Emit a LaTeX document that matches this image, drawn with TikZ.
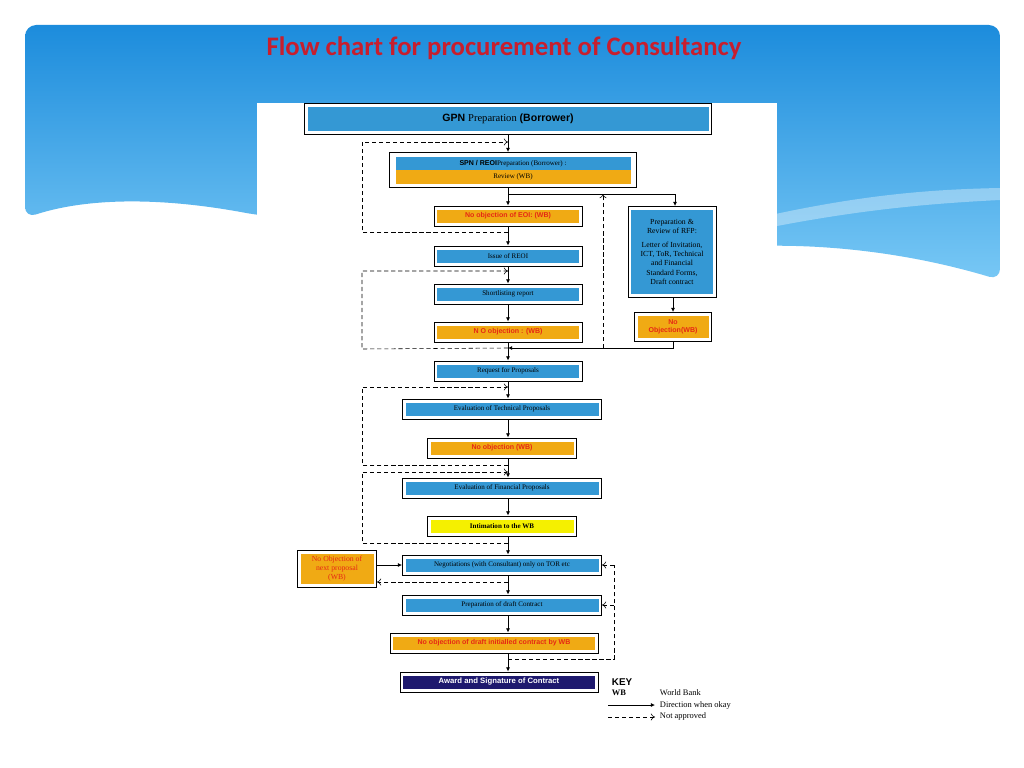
\documentclass[tikz,border=0pt]{standalone}
\usepackage{fontspec}
\setmainfont{Liberation Serif}
\newfontfamily\arialfont{Liberation Sans}
\newfontfamily\titlefont{Carlito}
\usetikzlibrary{arrows.meta,positioning,calc}
\definecolor{slideblue}{RGB}{28,140,220}
\definecolor{slidelight}{RGB}{120,200,245}
\definecolor{boxblue}{RGB}{52,152,212}
\definecolor{boxorange}{RGB}{240,170,20}
\definecolor{boxyellow}{RGB}{245,240,0}
\definecolor{boxnavy}{RGB}{30,25,110}
\definecolor{titlered}{RGB}{200,30,45}
\definecolor{objred}{RGB}{230,40,20}
\tikzset{
  frame/.style={draw, line width=0.7pt, fill=white, inner sep=0pt},
  inner/.style={fill=#1, inner sep=0pt, align=center},
  small/.style={font=\fontsize{5}{5.6}\selectfont},
  redtxt/.style={font=\arialfont\bfseries\fontsize{5}{5.6}\selectfont, text=objred},
  flow/.style={draw, line width=0.6pt, -{Latex[length=3pt,width=3pt]}},
  flowline/.style={draw, line width=0.6pt},
  back/.style={draw, densely dashed, line width=0.4pt, -{To[length=3pt,width=5pt]}},
  backline/.style={draw, densely dashed, line width=0.4pt}
}
% name, x, y, width, height, colour, text style, text
\newcommand{\boxnode}[8]{%
  \node[frame, minimum width=#4*0.025cm, minimum height=#5*0.025cm] (#1-f) at (#2,#3) {};
  \node[inner=#6, minimum width=#4*0.025cm-6*0.025cm, minimum height=#5*0.025cm-7*0.025cm, #7] (#1) at (#2,#3) {#8};
}
\begin{document}
\begin{tikzpicture}[x=0.025cm, y=-0.025cm]
\useasboundingbox (0,0) rectangle (1024,768);
\fill[white] (0,0) rectangle (1024,768);
% slide header
\shade[top color=slideblue, bottom color=slidelight, rounded corners=8]
  (25,25) -- (1000,25) -- (1000,280) .. controls (900,250) and (800,240) .. (700,250)
  -- (257,215) .. controls (150,195) and (80,200) .. (25,218) -- cycle;
\fill[white, opacity=0.35] (600,260) .. controls (800,200) and (900,190) .. (1000,188)
  -- (1000,200) .. controls (900,205) and (800,215) .. (620,262) -- cycle;
\node[font=\titlefont\bfseries\fontsize{19}{22}\selectfont, text=titlered] (title) at (504,48) {Flow chart for procurement of Consultancy};
\fill[white] (257,103) rectangle (777,768);

% boxes
\boxnode{gpn}{508}{119}{407}{31}{boxblue}{font=\arialfont\fontsize{7.5}{8}\selectfont}{\textbf{GPN} {\rmfamily Preparation} \textbf{(Borrower)}}
\node[frame, minimum width=247*0.025cm, minimum height=35*0.025cm] (spn-f) at (513,170) {};
\node[inner=boxblue, minimum width=235*0.025cm, minimum height=13*0.025cm, small] (spn) at (513,164) {{\arialfont\bfseries SPN / REOI}Preparation (Borrower) :};
\node[inner=boxorange, minimum width=235*0.025cm, minimum height=14*0.025cm, small] (review) at (513,177) {Review (WB)};
\boxnode{eoi}{508}{216}{148}{20}{boxorange}{redtxt}{No objection of EOI: (WB)}
\boxnode{issue}{508}{256}{148}{20}{boxblue}{small}{Issue of REOI}
\boxnode{short}{508}{294}{148}{20}{boxblue}{small}{Shortlisting report}
\boxnode{noobj}{508}{332}{148}{20}{boxorange}{redtxt}{N O objection : (WB)}
\boxnode{rfp}{672}{252}{88}{91}{boxblue}{font=\fontsize{5.5}{6.6}\selectfont}{Preparation \&\\Review of RFP:\\[3pt]Letter of Invitation,\\ICT, ToR, Technical\\and Financial\\Standard Forms,\\Draft contract}
\boxnode{rfpok}{673}{327}{77}{29}{boxorange}{redtxt}{No\\Objection(WB)}
\boxnode{request}{508}{371}{148}{20}{boxblue}{small}{Request for Proposals}
\boxnode{tech}{502}{409}{199}{20}{boxblue}{small}{Evaluation of Technical Proposals}
\boxnode{techok}{502}{448}{149}{20}{boxorange}{redtxt}{No objection (WB)}
\boxnode{fin}{502}{488}{199}{20}{boxblue}{small}{Evaluation of Financial Proposals}
\boxnode{intim}{502}{526}{149}{20}{boxyellow}{font=\bfseries\fontsize{5}{5.6}\selectfont}{Intimation to the WB}
\boxnode{nego}{502}{565}{199}{20}{boxblue}{small}{Negotiations (with Consultant) only on TOR etc}
\boxnode{next}{337}{569}{79}{37}{boxorange}{font=\fontsize{5.5}{6.4}\selectfont, text=objred}{No Objection of\\next proposal\\(WB)}
\boxnode{draft}{502}{605}{199}{20}{boxblue}{small}{Preparation of draft Contract}
\boxnode{draftok}{494}{643}{208}{20}{boxorange}{redtxt}{No objection of draft initialled contract by WB}
\boxnode{award}{499}{682}{198}{20}{boxnavy}{font=\arialfont\bfseries\fontsize{5.5}{6}\selectfont, text=white}{Award and Signature of Contract}

% coordinates for routing
\coordinate (j1) at (508,194);
\coordinate (j1r) at (675,194);
\coordinate (j2) at (508,348);
\coordinate (j2r) at (603,348);
\coordinate (j2up) at (603,194);

% main flow
\path[flow] (gpn-f.south) -- (spn-f.north -| gpn-f.south);
\path[flowline] (spn-f.south -| j1) -- (j1) -- (j1r);
\path[flow] (j1r) -- (rfp-f.north -| j1r);
\path[flow] (j1) -- (eoi-f.north);
\path[flow] (eoi-f.south) -- (issue-f.north);
\path[flow] (issue-f.south) -- (short-f.north);
\path[flow] (short-f.south) -- (noobj-f.north);
\path[flow] (noobj-f.south) -- (request-f.north);
\path[flow] (rfp-f.south -| rfpok-f) -- (rfpok-f.north);
\path[flow] (rfpok-f.south) |- (j2);
\path[flow] (request-f.south) -- (tech-f.north -| request-f.south);
\path[flow] (tech-f.south -| j1) -- (techok-f.north -| j1);
\path[flow] (techok-f.south -| j1) -- (fin-f.north -| j1);
\path[flow] (fin-f.south -| j1) -- (intim-f.north -| j1);
\path[flow] (intim-f.south -| j1) -- (nego-f.north -| j1);
\path[flow] (nego-f.south -| j1) -- (draft-f.north -| j1);
\path[flow] (draft-f.south -| j1) -- (draftok-f.north -| j1);
\path[flow] (draftok-f.south -| j1) -- (award-f.north -| j1);
\path[flow] (next-f.east |- nego-f) -- (nego-f.west);

% not approved
\path[back] (508,232) -- (362,232) -- (362,142) -- (508,142);
\path[back] (j2) -- (362,349) -- (362,271) -- (508,271);
\path[back] (j2r) -- (j2up);
\path[back] (508,465) -- (362,465) -- (362,387) -- (508,387);
\path[back] (508,543) -- (362,543) -- (362,472) -- (508,472);
\path[back] (508,582) -- (next-f.east |- 0,582);
\path[backline] (508,659) -- (614,659) -- (614,565);
\path[back] (614,565) -- (nego-f.east);
\path[back] (614,605) -- (draft-f.east);

% key
\node[font=\arialfont\bfseries\fontsize{7}{7}\selectfont, anchor=west] (key) at (607,682) {KEY};
\node[font=\bfseries\fontsize{6}{6}\selectfont, anchor=west] (keywb) at (607,693) {WB};
\node[small, font=\fontsize{6}{6}\selectfont, anchor=west] (keywbtxt) at (655,693) {World Bank};
\node[font=\fontsize{6}{6}\selectfont, anchor=west] (keyok) at (655,705) {Direction when okay};
\node[font=\fontsize{6}{6}\selectfont, anchor=west] (keyno) at (655,716) {Not approved};
\coordinate (k1) at (608,705);
\coordinate (k2) at (608,717);
\path[flow] (k1) -- (k1 -| keyok.west);
\path[back] (k2) -- (k2 -| keyno.west);
\end{tikzpicture}
\end{document}
